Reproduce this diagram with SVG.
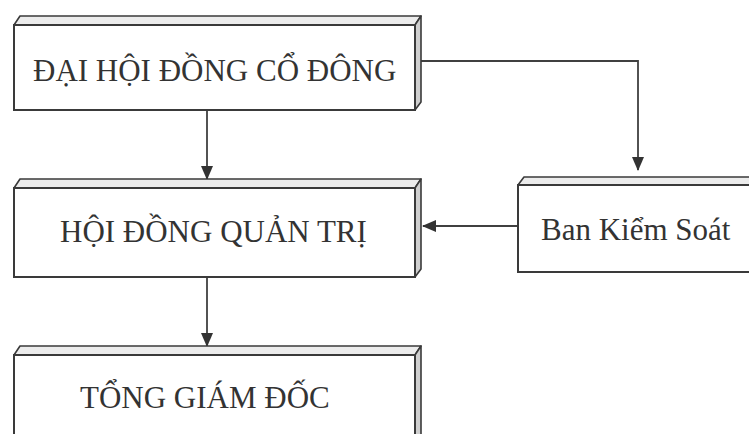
<svg xmlns="http://www.w3.org/2000/svg" width="749" height="434" viewBox="0 0 749 434">
  <style>
    .front { fill: #ffffff; stroke: #3a3a3a; stroke-width: 2; }
    .top { fill: #ececec; stroke: #3a3a3a; stroke-width: 1.6; stroke-linejoin: round; }
    .side { fill: #cfcfcf; stroke: #3a3a3a; stroke-width: 1.6; stroke-linejoin: round; }
    .lbl { font-family: "Liberation Serif", "Times New Roman", serif; font-size: 31px; fill: #333333; }
    .conn { fill: none; stroke: #404040; stroke-width: 1.8; }
  </style>
  <defs>
    <marker id="arrow" markerUnits="userSpaceOnUse" markerWidth="14" markerHeight="12" refX="13" refY="6" orient="auto">
      <path d="M0,0 L14,6 L0,12 Z" fill="#333333"/>
    </marker>
  </defs>
  <rect width="749" height="434" fill="#ffffff"/>

  <g id="connectors">
    <line class="conn" x1="207" y1="110" x2="207" y2="179" marker-end="url(#arrow)"/>
    <line class="conn" x1="207" y1="277" x2="207" y2="346" marker-end="url(#arrow)"/>
    <path class="conn" d="M421,61 H638 V170" marker-end="url(#arrow)"/>
    <line class="conn" x1="518" y1="226" x2="423" y2="226" marker-end="url(#arrow)"/>
  </g>

  <g id="dai-hoi-dong-co-dong">
    <polygon class="top" points="14,25 20,16 421,16 415,25"/>
    <polygon class="side" points="415,25 421,16 421,102 415,110"/>
    <rect class="front" x="14" y="25" width="401" height="85"/>
    <text class="lbl" x="33" y="81">ĐẠI HỘI ĐỒNG CỔ ĐÔNG</text>
  </g>

  <g id="hoi-dong-quan-tri">
    <polygon class="top" points="14,188 20,179 421,179 415,188"/>
    <polygon class="side" points="415,188 421,179 421,269 415,277"/>
    <rect class="front" x="14" y="188" width="401" height="89"/>
    <text class="lbl" x="60" y="242">HỘI ĐỒNG QUẢN TRỊ</text>
  </g>

  <g id="ban-kiem-soat">
    <polygon class="top" points="518,185 524,177 760,177 760,185"/>
    <rect class="front" x="518" y="185" width="250" height="87"/>
    <text class="lbl" x="541" y="240" font-size="30">Ban Kiểm Soát</text>
  </g>

  <g id="tong-giam-doc">
    <polygon class="top" points="14,355 20,346 421,346 415,355"/>
    <polygon class="side" points="415,355 421,346 421,440 415,440"/>
    <rect class="front" x="14" y="355" width="401" height="90"/>
    <text class="lbl" x="80" y="408">TỔNG GIÁM ĐỐC</text>
  </g>
</svg>
